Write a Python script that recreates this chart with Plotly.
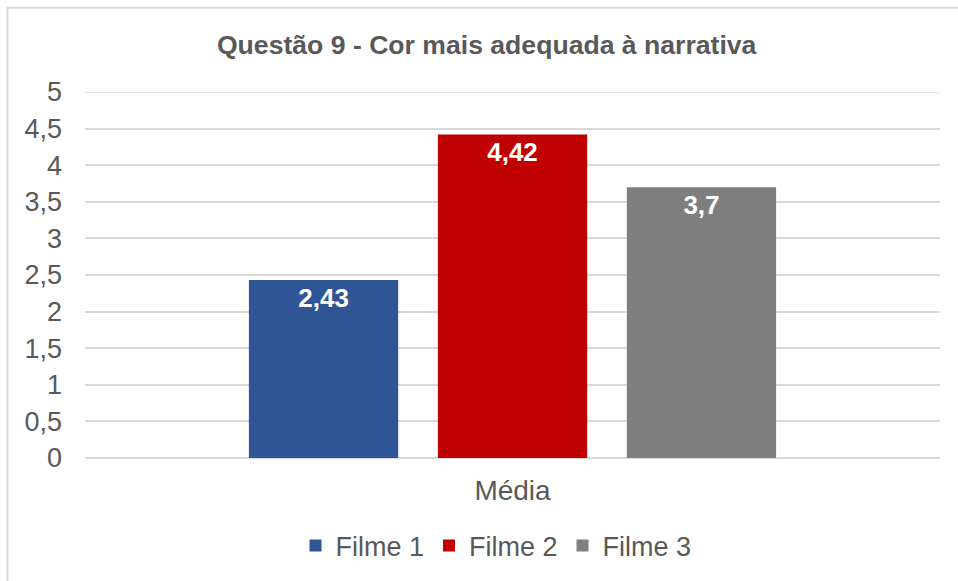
import plotly.graph_objects as go

# dados do gráfico
categorias = ["Média"]
series = ["Filme 1", "Filme 2", "Filme 3"]
valores = [2.43, 4.42, 3.7]
cores = ["#2F5597", "#C00000", "#7F7F7F"]
y_ticks = [0, 0.5, 1, 1.5, 2, 2.5, 3, 3.5, 4, 4.5, 5]
y_tick_labels = [str(t).replace(".", ",") if t % 1 else str(int(t)) for t in y_ticks]

FONTE = "Liberation Sans, Arial, sans-serif"
CINZA = "#595959"

fig = go.Figure()

for nome, v, cor in zip(series, valores, cores):
    fig.add_trace(
        go.Bar(
            x=categorias,
            y=[v],
            name=nome,
            marker=dict(color=cor, line=dict(width=0)),
            text=[str(v).replace(".", ",")],
            textposition="inside",
            insidetextanchor="end",
            textangle=0,
            textfont=dict(family=FONTE, size=26, color="white", weight="bold"),
            cliponaxis=False,
        )
    )

fig.update_layout(
    width=958,
    height=581,
    separators=",.",
    barmode="group",
    bargap=0.337,
    bargroupgap=0.21,
    paper_bgcolor="white",
    plot_bgcolor="white",
    margin=dict(l=85, r=18, t=92, b=122),
    font=dict(family=FONTE, color=CINZA),
    title=dict(
        text="<b>Questão 9 - Cor mais adequada à narrativa</b>",
        x=0.508,
        xref="container",
        xanchor="center",
        y=1 - 45 / 581,
        yref="container",
        yanchor="middle",
        font=dict(family=FONTE, size=26.6, color=CINZA),
    ),
    xaxis=dict(
        showgrid=False,
        showline=False,
        ticks="",
        tickfont=dict(family=FONTE, size=28, color=CINZA),
        ticklabelstandoff=13,
        fixedrange=True,
    ),
    yaxis=dict(
        range=[0, 5],
        tickvals=y_ticks,
        ticktext=y_tick_labels,
        showgrid=True,
        gridcolor="#D9D9D9",
        gridwidth=1.5,
        zeroline=True,
        zerolinecolor="#D9D9D9",
        zerolinewidth=1.5,
        showline=False,
        ticks="",
        tickfont=dict(family=FONTE, size=27, color=CINZA),
        ticklabelstandoff=22,
        fixedrange=True,
    ),
    legend=dict(
        orientation="h",
        x=(496 - 85) / 855,
        xanchor="center",
        y=(459 - 546) / 367,
        yanchor="middle",
        font=dict(family=FONTE, size=27, color=CINZA),
        itemwidth=30,
        traceorder="normal",
    ),
    shapes=[
        dict(
            type="rect",
            xref="paper",
            yref="paper",
            x0=(7.5 - 85) / 855,
            x1=1.2,
            y0=-0.5,
            y1=(459 - 7.5) / 367,
            line=dict(color="#D9D9D9", width=2),
            layer="below",
        ),
        # linha de grade do topo (plotly omite a da borda)
        dict(
            type="line",
            xref="paper",
            yref="y",
            x0=0,
            x1=1,
            y0=y_ticks[-1],
            y1=y_ticks[-1],
            line=dict(color="#D9D9D9", width=1.5),
            layer="below",
        ),
    ],
    showlegend=True,
)

fig.write_html(
    "out.html",
    config={"displayModeBar": False},
    post_script="document.body.style.margin='0';",
)
